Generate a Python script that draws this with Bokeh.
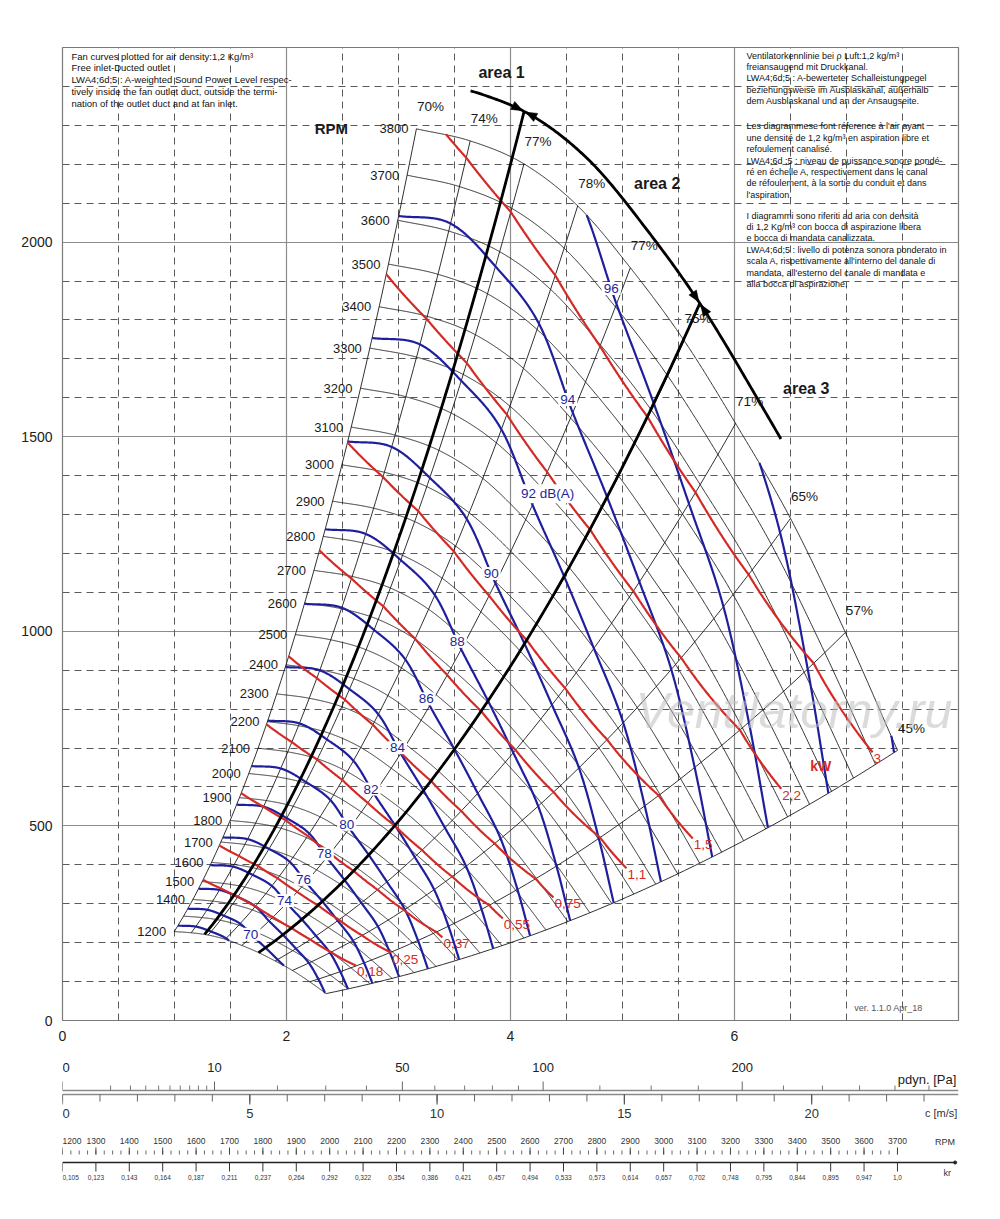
import numpy as np
from bokeh.plotting import figure
from bokeh.layouts import column
from bokeh.models import Range1d, FixedTicker, Grid, Label
from bokeh.core.properties import value
from bokeh.embed import file_html
from bokeh.resources import INLINE

FONT = "Liberation Sans"

# ---------------- data ----------------
ref_rpm = 3800
min_rpm = 1200
# fan curve at 3800 RPM, at the points where the efficiency lines meet it
base_q = [3.16, 3.64, 4.12, 4.60, 5.07, 5.55, 6.01, 6.50, 6.99, 7.455]   # V x 1000 m3/h
base_p = [2291, 2260, 2201, 2093, 1934, 1747, 1534, 1290, 997, 694]      # Pa
eff_pct = [70, 74, 77, 78, 77, 75, 71, 65, 57, 45]                       # %
lw_ref = [95.25, 95.2, 95.55, 95.9, 96.6, 97.2, 97.75, 98.35, 99.2, 100.1]  # dB(A) at 3800 RPM
lw_speed_exp = 56.0

rpm_list = list(range(1200, 3801, 100))
rpm_label_list = [n for n in rpm_list if n != 1300]

kw_values = [0.18, 0.25, 0.37, 0.55, 0.75, 1.1, 1.5, 2.2, 3.0]
kw_text = ["0,18", "0,25", "0,37", "0,55", "0,75", "1,1", "1,5", "2,2", "3"]
kw_end_q = [6.98, 7.0, 7.09, 7.18, 7.21, 7.27, 7.31, 7.33, 7.41]

db_values = list(range(68, 101, 2))
db_label_values = [70, 74, 76, 78, 80, 82, 84, 86, 88, 90, 92, 94, 96]
db_label_q = 5.0

area_k = [137.5, 56.9]          # Pa / (1000 m3/h)^2
limit_rpm = 3900
limit_q = [3.55, 6.25]
area_names = ["area 1", "area 2", "area 3"]
area_label_q = [3.92, 5.31, 6.64]
area_label_p = [2436, 2151, 1624]

x_ticks = [0, 2, 4, 6]
y_ticks = [0, 500, 1000, 1500, 2000]

pdyn_per_q2 = 5.43
pdyn_major = [0, 10, 50, 100, 200]
pdyn_minor = [1, 2, 3, 4, 5, 6, 7, 8, 9, 20, 30, 40, 60, 70, 80, 90, 125, 150, 175, 225, 250, 275, 300, 325]
c_per_q = 2.99
c_major = [0, 5, 10, 15, 20]
c_minor = list(range(0, 24))
rpm_scale = [1200, 3700]
rpm_scale_q = [0.0, 7.455]
rpm_scale_labels = list(range(1200, 3701, 100))
kr_labels = ["0,105", "0,123", "0,143", "0,164", "0,187", "0,211", "0,237", "0,264", "0,292",
             "0,322", "0,354", "0,386", "0,421", "0,457", "0,494", "0,533", "0,573", "0,614",
             "0,657", "0,702", "0,748", "0,795", "0,844", "0,895", "0,947", "1,0"]

left_notes = ("Fan curves plotted for air density:1,2 Kg/m\u00b3\n"
              "Free inlet-Ducted outlet\n"
              "LWA4;6d;5 : A-weighted Sound Power Level respec-\n"
              "tively inside the fan outlet duct, outside the termi-\n"
              "nation of the outlet duct and at fan inlet.")
right_notes = [
    "Ventilatorkennlinie bei \u03c1 Luft:1,2 kg/m\u00b3\n"
    "freiansaugend mit Druckkanal.\n"
    "LWA4;6d;5 : A-bewerteter Schalleistungpegel\n"
    "beziehungsweise im Ausblaskanal, au\u00dferhalb\n"
    "dem Ausblaskanal und an der Ansaugseite.",
    "Les diagrammese font r\u00e9ference \u00e0 l'air ayant\n"
    "une densit\u00e9 de 1,2 kg/m\u00b3 en aspiration libre et\n"
    "refoulement canalis\u00e9.\n"
    "LWA4;6d ;5 : niveau de puissance sonore pond\u00e9-\n"
    "r\u00e9 en \u00e9chelle A, respectivement dans le canal\n"
    "de r\u00e9foulement, \u00e0 la sortie du conduit et dans\n"
    "l'aspiration.",
    "I diagrammi sono riferiti ad aria con densit\u00e0\n"
    "di 1,2 Kg/m\u00b3 con bocca di aspirazione libera\n"
    "e bocca di mandata canalizzata.\n"
    "LWA4;6d;5 : livello di potenza sonora ponderato in\n"
    "scala A, rispettivamente all'interno del canale di\n"
    "mandata, all'esterno del canale di mandata e\n"
    "alla bocca di aspirazione.",
]

# ---------------- helpers ----------------
FW, FH = 896, 973
X_MAX, Y_MAX = 8.0, 2500.0
PX_X = FW / X_MAX
PX_Y = FH / Y_MAX
BLUE = "#1f1f9e"
RED = "#d42a26"
INK = "#1a1a1a"
BL, BR = 62, 22


def hermite(xs, ys, xq):
    xs = np.asarray(xs, float)
    ys = np.asarray(ys, float)
    xq = np.atleast_1d(np.asarray(xq, float))
    n = len(xs)
    m = np.zeros(n)
    m[1:-1] = (ys[2:] - ys[:-2]) / (xs[2:] - xs[:-2])
    m[0] = (ys[1] - ys[0]) / (xs[1] - xs[0])
    m[-1] = (ys[-1] - ys[-2]) / (xs[-1] - xs[-2])
    i = np.clip(np.searchsorted(xs, xq) - 1, 0, n - 2)
    h = xs[i + 1] - xs[i]
    t = (xq - xs[i]) / h
    h00 = 2 * t**3 - 3 * t**2 + 1
    h10 = t**3 - 2 * t**2 + t
    h01 = -2 * t**3 + 3 * t**2
    h11 = t**3 - t**2
    return h00 * ys[i] + h10 * h * m[i] + h01 * ys[i + 1] + h11 * h * m[i + 1]


rmin = min_rpm / ref_rpm


def locus(q_end, r_of):
    q = np.linspace(base_q[0], q_end, 600)
    pp = hermite(base_q, base_p, q)
    r = r_of(q, pp)
    ok = np.nonzero((r >= rmin) & (r <= 1.0))[0]
    if len(ok) == 0:
        return None
    lo = max(ok[0] - 1, 0)
    hi = min(ok[-1] + 1, len(q) - 1)
    rc = np.clip(r[lo:hi + 1], rmin, 1.0)
    return q[lo:hi + 1] * rc, pp[lo:hi + 1] * rc**2


def eta_of(q):
    return np.interp(q, base_q, eff_pct) / 100.0


def power_w(q, pp):
    return q / 3.6 * pp / eta_of(q)


# ---------------- main figure ----------------
p1 = figure(frame_width=FW, frame_height=FH, x_range=Range1d(0, X_MAX), y_range=Range1d(0, Y_MAX),
            min_border_left=BL, min_border_right=BR, min_border_top=47, min_border_bottom=26,
            output_backend="svg", toolbar_location=None,
            background_fill_color="white", border_fill_color="white")
p1.outline_line_color = "#7a7a7a"
p1.outline_line_width = 1.2

p1.xaxis.ticker = FixedTicker(ticks=x_ticks)
p1.yaxis.ticker = FixedTicker(ticks=y_ticks)
for ax in (p1.xaxis[0], p1.yaxis[0]):
    ax.axis_line_color = None
    ax.major_tick_line_color = None
    ax.minor_tick_line_color = None
    ax.major_tick_out = 0
    ax.major_tick_in = 0
    ax.major_label_text_font = FONT
    ax.major_label_text_font_size = "14px"
    ax.major_label_text_color = "#222222"
    ax.major_label_standoff = 10

p1.xgrid.ticker = FixedTicker(ticks=[2, 4, 6])
p1.ygrid.ticker = FixedTicker(ticks=[500, 1000, 1500, 2000])
p1.grid.grid_line_color = "#8c8c8c"
p1.grid.grid_line_width = 1.2
dash_x = [i * 0.5 for i in range(1, 16) if i % 4]
dash_y = [i * 100 for i in range(1, 25) if i % 5]
p1.add_layout(Grid(dimension=0, ticker=FixedTicker(ticks=dash_x), grid_line_color="#5a5a5a",
                   grid_line_dash="7 5", grid_line_width=1))
p1.add_layout(Grid(dimension=1, ticker=FixedTicker(ticks=dash_y), grid_line_color="#5a5a5a",
                   grid_line_dash="7 5", grid_line_width=1))

qf = np.linspace(base_q[0], base_q[-1], 600)
pf = hermite(base_q, base_p, qf)

# speed curves
p1.multi_line([qf * (n / ref_rpm) for n in rpm_list], [pf * (n / ref_rpm) ** 2 for n in rpm_list],
              line_color=INK, line_width=0.9)
# efficiency (system) lines
rr = np.linspace(rmin, 1.0, 60)
p1.multi_line([q * rr for q in base_q], [pp * rr**2 for pp in base_p], line_color=INK, line_width=0.9)

# sound power lines
bx, by = [], []
for L in db_values:
    res = locus(base_q[-1], lambda q, pp, L=L: 10 ** ((L - hermite(base_q, lw_ref, q)) / lw_speed_exp))
    if res is not None:
        bx.append(res[0])
        by.append(res[1])
p1.multi_line(bx, by, line_color=BLUE, line_width=2.2)

# power lines
rx, ry, kx, ky = [], [], [], []
for P, qe in zip(kw_values, kw_end_q):
    res = locus(qe, lambda q, pp, P=P: (P * 1000.0 / power_w(q, pp)) ** (1.0 / 3.0))
    rx.append(res[0])
    ry.append(res[1])
    kx.append(res[0][-1])
    ky.append(res[1][-1])
p1.multi_line(rx, ry, line_color=RED, line_width=2.2)

# area dividers and speed limit curve
rl = limit_rpm / ref_rpm
qf2 = np.linspace(base_q[0], base_q[-1], 3000)
pf2 = hermite(base_q, base_p, qf2)
dx_list, dy_list, cross = [], [], []
for k in area_k:
    i = int(np.argmin(np.abs(pf2 / qf2**2 - k)))
    qk = qf2[i]
    qq = np.linspace(qk * rmin, qk * rl, 80)
    dx_list.append(qq)
    dy_list.append(k * qq**2)
    cross.append(qk)
lq = np.linspace(limit_q[0], limit_q[1], 200)
lp = hermite(base_q, base_p, lq)
dx_list.append(lq * rl)
dy_list.append(lp * rl**2)
p1.multi_line(dx_list, dy_list, line_color="black", line_width=2.8)

# arrow heads where dividers meet the limit curve
tri_x, tri_y = [], []
for qk in cross:
    a = hermite(base_q, base_p, [qk - 0.01, qk, qk + 0.01])
    X = np.array([qk * rl * PX_X, a[1] * rl**2 * PX_Y])
    v = np.array([0.02 * rl * PX_X, (a[2] - a[0]) * rl**2 * PX_Y])
    u = v / np.hypot(*v)
    nrm = np.array([-u[1], u[0]])
    for sgn in (-1, 1):
        tip = X + sgn * u * 1.5
        back = X + sgn * u * 13
        pts = [tip, back + nrm * 4.5, back - nrm * 4.5]
        tri_x.append([pt[0] / PX_X for pt in pts])
        tri_y.append([pt[1] / PX_Y for pt in pts])
p1.patches(tri_x, tri_y, fill_color="black", line_color="black", line_width=0.5)

# ---------------- labels ----------------
lab_r = [n / ref_rpm for n in rpm_label_list]
p1.text([base_q[0] * r - 8 / PX_X for r in lab_r], [base_p[0] * r**2 for r in lab_r],
        [str(n) for n in rpm_label_list], text_font=value(FONT), text_font_size=value("13px"),
        text_color=INK, text_align="right", text_baseline="middle")
p1.text([base_q[0] - 85 / PX_X], [base_p[0]], ["RPM"], text_font=value(FONT), text_font_size=value("15px"),
        text_font_style="bold", text_color=INK, text_align="center", text_baseline="middle")

p1.text([q + 14 / PX_X for q in base_q], [pp + 22 / PX_Y for pp in base_p], [f"{e}%" for e in eff_pct],
        text_font=value(FONT), text_font_size=value("13.5px"), text_color=INK,
        text_align="center", text_baseline="middle")

lw5 = hermite(base_q, lw_ref, [db_label_q])[0]
pb5 = hermite(base_q, base_p, [db_label_q])[0]
sx, sy, st = [], [], []
for L in db_label_values:
    r = 10 ** ((L - lw5) / lw_speed_exp)
    sx.append(db_label_q * r)
    sy.append(pb5 * r**2)
    st.append(str(L))
plain = [i for i, L in enumerate(db_label_values) if L != 92]
p1.text([sx[i] for i in plain], [sy[i] for i in plain], [st[i] for i in plain],
        text_font=value(FONT), text_font_size=value("13.5px"), text_color=BLUE,
        text_align="center", text_baseline="middle", background_fill_color="white", padding=2)
j = db_label_values.index(92)
p1.text([sx[j] - 9 / PX_X], [sy[j]], ["92 dB(A)"], text_font=value(FONT), text_font_size=value("13.5px"),
        text_color=BLUE, text_align="left", text_baseline="middle", background_fill_color="white", padding=2)

p1.text([x + 1 / PX_X for x in kx], [y - 2 / PX_Y for y in ky], kw_text, text_font=value(FONT),
        text_font_size=value("13.5px"), text_color=RED, text_align="left", text_baseline="top")
p1.text([6.77], [655], ["kW"], text_font=value(FONT), text_font_size=value("14px"), text_font_style="bold",
        text_color=RED, text_align="center", text_baseline="middle")

p1.text(area_label_q, area_label_p, area_names, text_font=value(FONT), text_font_size=value("16px"),
        text_font_style="bold", text_color=INK, text_align="center", text_baseline="middle")

p1.text([0.08], [2492], [left_notes], text_font=value(FONT), text_font_size=value("9.5px"),
        text_color="#111111", text_align="left", text_baseline="top", text_line_height=1.08)
p1.text([6.107, 6.107, 6.107], [2492, 2310, 2081], right_notes, text_font=value(FONT),
        text_font_size=value("9px"), text_color="#111111", text_align="left", text_baseline="top",
        text_line_height=1.14)

p1.text([6.53], [796], ["Ventilatorny.ru"], text_font=value(FONT), text_font_size=value("50px"),
        text_font_style="italic", text_color="#bdbdbd", text_alpha=0.55, text_align="center",
        text_baseline="middle")
p1.text([7.375], [33], ["ver. 1.1.0 Apr_18"], text_font=value(FONT), text_font_size=value("9px"),
        text_color="#555555", text_align="center", text_baseline="middle")

p1.add_layout(Label(x=-0.22, y=2506, text="\u0394ptot", text_font=FONT, text_font_size="14px",
                    text_color="#222222", text_align="center", text_baseline="middle"))
p1.add_layout(Label(x=-0.22, y=2450, text="[Pa]", text_font=FONT, text_font_size="14px",
                    text_color="#222222", text_align="center", text_baseline="middle"))
p1.add_layout(Label(x=7.53, y=-44, text="V x 1000 [m\u00b3/h]", text_font=FONT, text_font_size="14px",
                    text_color="#222222", text_align="center", text_baseline="middle"))

# ---------------- auxiliary scales ----------------
p2 = figure(frame_width=FW, frame_height=140, x_range=Range1d(0, X_MAX),
            y_range=Range1d(1185, 1045), min_border_left=BL, min_border_right=BR,
            min_border_top=0, min_border_bottom=0, x_axis_type=None, y_axis_type=None,
            output_backend="svg", toolbar_location=None, background_fill_color="white",
            border_fill_color="white")
p2.outline_line_color = None


def labels(fig, xs, ys, texts, size, align="center", color="#222222"):
    for x, y, t in zip(xs, ys, texts):
        a = "left" if (align == "center" and x <= 1e-9) else align
        fig.add_layout(Label(x=float(x), y=float(y), text=t, text_font=FONT, text_font_size=size,
                             text_color=color, text_align=a, text_baseline="middle"))


GR = "#8a8a8a"
qmaj = [np.sqrt(v / pdyn_per_q2) for v in pdyn_major]
qmin = [np.sqrt(v / pdyn_per_q2) for v in pdyn_minor]
p2.segment(x0=[0, 0], y0=[1089, 1093], x1=[X_MAX, X_MAX], y1=[1089, 1093], line_color=GR, line_width=1.6)
p2.segment(x0=qmaj, y0=[1089] * len(qmaj), x1=qmaj, y1=[1080] * len(qmaj), line_color="#666666", line_width=1)
p2.segment(x0=qmin, y0=[1089] * len(qmin), x1=qmin, y1=[1084] * len(qmin), line_color="#777777", line_width=1)
labels(p2, qmaj, [1066] * len(qmaj), [str(v) for v in pdyn_major], "13px")
labels(p2, [7.98], [1078], ["pdyn. [Pa]"], "13px", align="right")

cq_min = [c / c_per_q for c in c_minor]
cq_maj = [c / c_per_q for c in c_major]
p2.segment(x0=cq_min, y0=[1093] * len(cq_min), x1=cq_min, y1=[1100] * len(cq_min), line_color="#666666", line_width=1)
p2.segment(x0=cq_maj, y0=[1093] * len(cq_maj), x1=cq_maj, y1=[1103] * len(cq_maj), line_color="#555555", line_width=1.2)
labels(p2, cq_maj, [1112] * len(cq_maj), [str(c) for c in c_major], "13px", color="#333333")
labels(p2, [7.99], [1111], ["c [m/s]"], "11px", align="right", color="#333333")


def rpm_to_q(n):
    return rpm_scale_q[0] + (n - rpm_scale[0]) * (rpm_scale_q[1] - rpm_scale_q[0]) / (rpm_scale[1] - rpm_scale[0])


rq = [rpm_to_q(n) for n in rpm_scale_labels]
fine = [rpm_to_q(n) for n in range(rpm_scale[0], rpm_scale[1] + 1, 25)]
labels(p2, rq, [1139] * len(rq), [str(n) for n in rpm_scale_labels], "8.5px", color="#333333")
p2.segment(x0=fine, y0=[1149] * len(fine), x1=fine, y1=[1153] * len(fine), line_color="#444444", line_width=0.8)
p2.segment(x0=rq, y0=[1146] * len(rq), x1=rq, y1=[1153] * len(rq), line_color="#444444", line_width=1)
p2.segment(x0=[0], y0=[1161], x1=[7.97], y1=[1161], line_color="#222222", line_width=1.6)
p2.scatter([7.97], [1161], size=3, color="#222222")
p2.segment(x0=rq, y0=[1161] * len(rq), x1=rq, y1=[1170] * len(rq), line_color="#333333", line_width=1)
labels(p2, rq, [1176] * len(rq), kr_labels, "6.5px", color="#333333")
labels(p2, [7.88], [1140], ["RPM"], "9px", color="#333333")
labels(p2, [7.9], [1171], ["kr"], "9px", color="#333333")

layout = column(p1, p2, spacing=0)
open("out.html", "w").write(file_html(layout, INLINE))
